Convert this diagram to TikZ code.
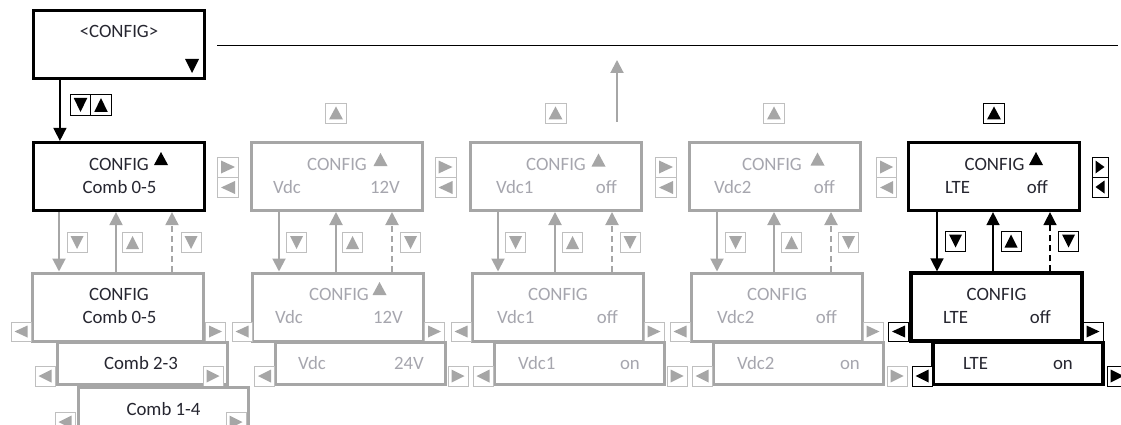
\documentclass[tikz,border=0pt]{standalone}
\usepackage{fontspec}
\setmainfont{Carlito}
\usetikzlibrary{arrows.meta}
\definecolor{boxgray}{HTML}{A6A6A6}
\definecolor{keygray}{HTML}{BFBFBF}
\definecolor{trigray}{HTML}{A6A6A6}
\definecolor{txtgray}{HTML}{A6A6AE}
\definecolor{txtdark}{HTML}{262630}
\newcommand\cfont{\fontsize{18.8}{22}\selectfont}
\tikzset{
  bigbox/.style={draw=black, line width=3.2pt, fill=white, minimum width=171pt, minimum height=68pt, inner sep=0pt},
  gbig/.style={bigbox, draw=boxgray, line width=3pt},
  lowbox/.style={bigbox, minimum width=170pt, minimum height=42pt},
  glow/.style={lowbox, draw=boxgray, line width=3pt},
  btxt/.style={font=\cfont, text=txtdark, inner sep=0pt},
  gtxt/.style={btxt, text=txtgray},
  gkey/.style={draw=keygray, line width=0.9pt, fill=white, minimum width=20pt, minimum height=19pt, inner sep=0pt},
  bkey/.style={gkey, draw=black},
  kU/.style={path picture={\fill[#1] ([shift={(3.5pt,3.5pt)}]path picture bounding box.south west) -- ([shift={(-3.5pt,3.5pt)}]path picture bounding box.south east) -- ([shift={(0pt,-3.5pt)}]path picture bounding box.north) -- cycle;}},
  kD/.style={path picture={\fill[#1] ([shift={(3.5pt,-3.5pt)}]path picture bounding box.north west) -- ([shift={(-3.5pt,-3.5pt)}]path picture bounding box.north east) -- ([shift={(0pt,3.5pt)}]path picture bounding box.south) -- cycle;}},
  kL/.style={path picture={\fill[#1] ([shift={(-3.5pt,-3.5pt)}]path picture bounding box.north east) -- ([shift={(-3.5pt,3.5pt)}]path picture bounding box.south east) -- ([shift={(3.5pt,0pt)}]path picture bounding box.west) -- cycle;}},
  kR/.style={path picture={\fill[#1] ([shift={(3.5pt,-3.5pt)}]path picture bounding box.north west) -- ([shift={(3.5pt,3.5pt)}]path picture bounding box.south west) -- ([shift={(-3.5pt,0pt)}]path picture bounding box.east) -- cycle;}},
  tU/.style={inner sep=0pt, minimum width=14pt, minimum height=13pt, path picture={\fill[#1] (path picture bounding box.south west) -- (path picture bounding box.south east) -- (path picture bounding box.north) -- cycle;}},
  tD/.style={inner sep=0pt, minimum width=14pt, minimum height=14pt, path picture={\fill[#1] (path picture bounding box.north west) -- (path picture bounding box.north east) -- (path picture bounding box.south) -- cycle;}},
  garr/.style={draw=boxgray, line width=2pt, -{Triangle[width=13pt,length=13pt]}},
  barr/.style={draw=black, line width=1.5pt, -{Triangle[width=13pt,length=13pt]}},
  dsh/.style={dash pattern=on 6pt off 4pt},
}
\begin{document}
\begin{tikzpicture}[x=1pt,y=-1pt]
\useasboundingbox (0,0) rectangle (1121,425);
% top box
\node[bigbox] (top) at (119,44.5) {};
\node[btxt,anchor=base] (toptxt) at (119,38) {<CONFIG>};
\node[tD=black] (topdn) at (192,66) {};
\coordinate (hl1) at (217,46);
\coordinate (hl2) at (1118,46);
\draw[line width=1pt] (hl1) -- (hl2);
\node[bkey,kD=black,minimum width=20.5pt,minimum height=21pt] (kt1) at (80.5,105) {};
\node[bkey,kU=black,minimum width=20.5pt,minimum height=21pt] (kt2) at (101,105) {};

% row 1
\node[bigbox] (r1c1) at (119,176.5) {};
\node[gbig] (r1c2) at (336.5,176.5) {};
\node[gbig] (r1c3) at (556,176.5) {};
\node[gbig] (r1c4) at (775,176.5) {};
\node[bigbox] (r1c5) at (994,176.5) {};
\draw[barr] ([xshift=28pt]top.south west) -- ([xshift=28pt]top.south west |- r1c1.north);

\node[btxt,anchor=base] (t11a) at (119,170) {CONFIG};
\node[tU=black] (a11) at (161,158.5) {};
\node[btxt,anchor=base] (t11b) at (119.5,193) {Comb 0-5};
\node[gtxt,anchor=base] (t12a) at (337,170) {CONFIG};
\node[tU=trigray] (a12) at (380.5,159.5) {};
\node[gtxt,anchor=base west] (t12b) at (273,193) {Vdc};
\node[gtxt,anchor=base east] (t12c) at (400,193) {12V};
\node[gtxt,anchor=base] (t13a) at (556,170) {CONFIG};
\node[tU=trigray] (a13) at (598.5,160) {};
\node[gtxt,anchor=base west] (t13b) at (496,193) {Vdc1};
\node[gtxt,anchor=base east] (t13c) at (617,193) {off};
\node[gtxt,anchor=base] (t14a) at (772,170) {CONFIG};
\node[tU=trigray] (a14) at (817.5,159) {};
\node[gtxt,anchor=base west] (t14b) at (714,193) {Vdc2};
\node[gtxt,anchor=base east] (t14c) at (835,193) {off};
\node[btxt,anchor=base] (t15a) at (994.5,170) {CONFIG};
\node[tU=black] (a15) at (1036,158.5) {};
\node[btxt,anchor=base west] (t15b) at (945,193) {LTE};
\node[btxt,anchor=base east] (t15c) at (1048,193) {off};

% side key pairs row 1
\node[gkey,kR=trigray,minimum width=21pt,minimum height=20pt] (p1r) at (228,167) {};
\node[gkey,kL=trigray,minimum width=21pt,minimum height=20pt] (p1l) at (228,187.5) {};
\node[gkey,kR=trigray,minimum width=21pt,minimum height=20pt] (p2r) at (445.5,167) {};
\node[gkey,kL=trigray,minimum width=21pt,minimum height=20pt] (p2l) at (445.5,187.5) {};
\node[gkey,kR=trigray,minimum width=21pt,minimum height=20pt] (p3r) at (666,167) {};
\node[gkey,kL=trigray,minimum width=21pt,minimum height=20pt] (p3l) at (666,187.5) {};
\node[gkey,kR=trigray,minimum width=20pt,minimum height=20pt] (p4r) at (886.5,167) {};
\node[gkey,kL=trigray,minimum width=20pt,minimum height=20pt] (p4l) at (886.5,187.5) {};
\node[bkey,kR=black,minimum width=16pt,minimum height=20pt] (p5r) at (1100,167) {};
\node[bkey,kL=black,minimum width=16pt,minimum height=20pt] (p5l) at (1100,187) {};

% keys above row 1
\node[gkey,kU=trigray,minimum width=21pt,minimum height=20pt] (u2) at (336,113) {};
\node[gkey,kU=trigray,minimum width=21pt,minimum height=20pt] (u3) at (555.5,113) {};
\node[gkey,kU=trigray,minimum width=21pt,minimum height=20pt] (u4) at (774,113) {};
\node[bkey,kU=black,minimum width=21pt,minimum height=20pt] (u5) at (994,113) {};
\coordinate (upS) at (617,122);
\coordinate (upE) at (617,60);
\draw[garr] (upS) -- (upE);

% row 2
\node[gbig] (r2c1) at (118,307) {};
\node[gbig] (r2c2) at (338,307) {};
\node[gbig] (r2c3) at (557.5,307) {};
\node[gbig] (r2c4) at (777,307) {};
\node[bigbox] (r2c5) at (996.5,307) {};

% arrows between rows
\draw[garr] ([xshift=-60pt]r1c1.south) -- ([xshift=-60pt]r1c1.south |- r2c1.north);
\draw[garr] ([xshift=-3pt]r1c1.south |- r2c1.north) -- ([xshift=-3pt]r1c1.south);
\draw[garr,dsh] ([xshift=53pt]r1c1.south |- r2c1.north) -- ([xshift=53pt]r1c1.south);
\draw[garr] ([xshift=-57.5pt]r1c2.south) -- ([xshift=-57.5pt]r1c2.south |- r2c2.north);
\draw[garr] ([xshift=-0.5pt]r1c2.south |- r2c2.north) -- ([xshift=-0.5pt]r1c2.south);
\draw[garr,dsh] ([xshift=55.5pt]r1c2.south |- r2c2.north) -- ([xshift=55.5pt]r1c2.south);
\draw[garr] ([xshift=-58pt]r1c3.south) -- ([xshift=-58pt]r1c3.south |- r2c3.north);
\draw[garr] ([xshift=-1pt]r1c3.south |- r2c3.north) -- ([xshift=-1pt]r1c3.south);
\draw[garr,dsh] ([xshift=56pt]r1c3.south |- r2c3.north) -- ([xshift=56pt]r1c3.south);
\draw[garr] ([xshift=-58pt]r1c4.south) -- ([xshift=-58pt]r1c4.south |- r2c4.north);
\draw[garr] ([xshift=-1pt]r1c4.south |- r2c4.north) -- ([xshift=-1pt]r1c4.south);
\draw[garr,dsh] ([xshift=56pt]r1c4.south |- r2c4.north) -- ([xshift=56pt]r1c4.south);
\draw[barr] ([xshift=-57pt]r1c5.south) -- ([xshift=-57pt]r1c5.south |- r2c5.north);
\draw[barr] ([xshift=-1pt]r1c5.south |- r2c5.north) -- ([xshift=-1pt]r1c5.south);
\draw[barr,dsh] ([xshift=56pt]r1c5.south |- r2c5.north) -- ([xshift=56pt]r1c5.south);

% keys between rows
\node[gkey,kD=trigray,minimum height=20pt] (m11) at (77,242.5) {};
\node[gkey,kU=trigray,minimum height=20pt] (m12) at (132.5,242.5) {};
\node[gkey,kD=trigray,minimum height=20pt] (m13) at (191,242.5) {};
\node[gkey,kD=trigray,minimum height=20pt] (m21) at (296.5,242.5) {};
\node[gkey,kU=trigray,minimum height=20pt] (m22) at (352.5,242.5) {};
\node[gkey,kD=trigray,minimum height=20pt] (m23) at (410.5,242.5) {};
\node[gkey,kD=trigray,minimum height=20pt] (m31) at (515.5,242.5) {};
\node[gkey,kU=trigray,minimum height=20pt] (m32) at (572.5,242.5) {};
\node[gkey,kD=trigray,minimum height=20pt] (m33) at (630,242.5) {};
\node[gkey,kD=trigray,minimum height=20pt] (m41) at (735.5,242.5) {};
\node[gkey,kU=trigray,minimum height=20pt] (m42) at (791.5,242.5) {};
\node[gkey,kD=trigray,minimum height=20pt] (m43) at (848.5,242.5) {};
\node[bkey,kD=black,minimum height=20pt] (m51) at (955.5,241) {};
\node[bkey,kU=black,minimum height=20pt] (m52) at (1011,241) {};
\node[bkey,kD=black,minimum height=20pt] (m53) at (1068.5,241) {};

% row 2 texts
\node[btxt,anchor=base] (t21a) at (119,300) {CONFIG};
\node[btxt,anchor=base] (t21b) at (119.5,323) {Comb 0-5};
\node[gtxt,anchor=base] (t22a) at (339,300) {CONFIG};
\node[tU=trigray] (a22) at (379.5,288.5) {};
\node[gtxt,anchor=base west] (t22b) at (275,323) {Vdc};
\node[gtxt,anchor=base east] (t22c) at (403,323) {12V};
\node[gtxt,anchor=base] (t23a) at (558,300) {CONFIG};
\node[gtxt,anchor=base west] (t23b) at (497,323.5) {Vdc1};
\node[gtxt,anchor=base east] (t23c) at (618,323.5) {off};
\node[gtxt,anchor=base] (t24a) at (777,300) {CONFIG};
\node[gtxt,anchor=base west] (t24b) at (717,323) {Vdc2};
\node[gtxt,anchor=base east] (t24c) at (837,323) {off};
\node[btxt,anchor=base] (t25a) at (996.5,300) {CONFIG};
\node[btxt,anchor=base west] (t25b) at (943,323) {LTE};
\node[btxt,anchor=base east] (t25c) at (1051,323) {off};

% row 2 side keys
\node[gkey,kL=trigray] (s21l) at (21,331.5) {};
\node[gkey,kR=trigray] (s21r) at (215.5,331.5) {};
\node[gkey,kL=trigray] (s22l) at (242,331.5) {};
\node[gkey,kR=trigray] (s22r) at (434.5,331.5) {};
\node[gkey,kL=trigray] (s23l) at (461,331.5) {};
\node[gkey,kR=trigray] (s23r) at (654,331.5) {};
\node[gkey,kL=trigray] (s24l) at (680,331.5) {};
\node[gkey,kR=trigray] (s24r) at (873,331.5) {};
\node[bkey,kL=black] (s25l) at (898.5,331.5) {};
\node[bkey,kR=black] (s25r) at (1093,331.5) {};

% row 3
\node[glow] (r3c1) at (142,363.5) {};
\node[glow] (r3c2) at (360.5,363.5) {};
\node[glow] (r3c3) at (579.5,363.5) {};
\node[glow] (r3c4) at (798,363.5) {};
\node[lowbox] (r3c5) at (1018,363.5) {};
\node[btxt,anchor=base] (t31) at (141,369) {Comb 2-3};
\node[gtxt,anchor=base west] (t32a) at (298,369) {Vdc};
\node[gtxt,anchor=base east] (t32b) at (424,369) {24V};
\node[gtxt,anchor=base west] (t33a) at (518,369) {Vdc1};
\node[gtxt,anchor=base east] (t33b) at (640,369) {on};
\node[gtxt,anchor=base west] (t34a) at (737,369) {Vdc2};
\node[gtxt,anchor=base east] (t34b) at (860,369) {on};
\node[btxt,anchor=base west] (t35a) at (963,369) {LTE};
\node[btxt,anchor=base east] (t35b) at (1073,369) {on};
\node[gkey,kL=trigray,minimum height=20pt] (s31l) at (45,376) {};
\node[gkey,kR=trigray,minimum height=20pt] (s31r) at (213,376) {};
\node[gkey,kL=trigray,minimum height=20pt] (s32l) at (264.5,376) {};
\node[gkey,kR=trigray,minimum height=20pt] (s32r) at (458,376) {};
\node[gkey,kL=trigray,minimum height=20pt] (s33l) at (483,376) {};
\node[gkey,kR=trigray,minimum height=20pt] (s33r) at (677,376) {};
\node[gkey,kL=trigray,minimum height=20pt] (s34l) at (702,376) {};
\node[gkey,kR=trigray,minimum height=20pt] (s34r) at (897,376) {};
\node[bkey,kL=black,minimum height=20pt] (s35l) at (922,376) {};
\node[bkey,kR=black,minimum height=20pt] (s35r) at (1117,376) {};

% row 4
\node[glow] (r4c1) at (163,408) {};
\node[btxt,anchor=base] (t41) at (163.5,415) {Comb 1-4};
\node[gkey,kL=trigray,minimum height=20pt] (s41l) at (65,422) {};
\node[gkey,kR=trigray,minimum height=20pt] (s41r) at (236,422) {};
\end{tikzpicture}
\end{document}
